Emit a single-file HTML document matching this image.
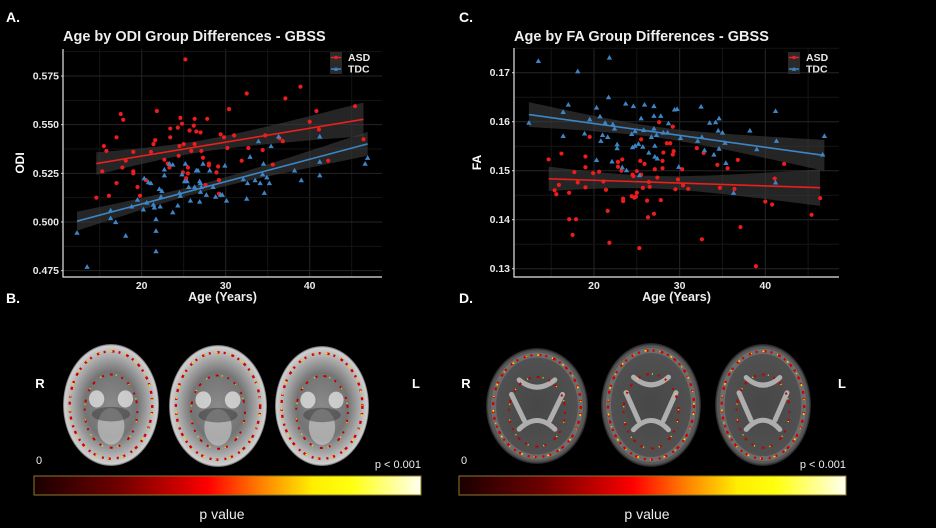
<!DOCTYPE html>
<html><head><meta charset="utf-8">
<style>
html,body{margin:0;padding:0;background:#000;}
svg{display:block;font-family:"Liberation Sans",sans-serif;}
</style></head>
<body>
<svg id="fig" width="936" height="528" viewBox="0 0 936 528" xmlns="http://www.w3.org/2000/svg">
<defs>
  <linearGradient id="cbar" x1="0" x2="1" y1="0" y2="0">
    <stop offset="0" stop-color="#1a0000"/>
    <stop offset="0.22" stop-color="#700000"/>
    <stop offset="0.38" stop-color="#d00000"/>
    <stop offset="0.45" stop-color="#ff0000"/>
    <stop offset="0.58" stop-color="#ff7a00"/>
    <stop offset="0.72" stop-color="#ffee00"/>
    <stop offset="0.82" stop-color="#ffff10"/>
    <stop offset="1" stop-color="#fffff0"/>
  </linearGradient>
  <radialGradient id="odiBrain" cx="0.5" cy="0.5" r="0.5">
    <stop offset="0" stop-color="#8a8a8a"/>
    <stop offset="0.55" stop-color="#747474"/>
    <stop offset="0.85" stop-color="#b5b5b5"/>
    <stop offset="0.97" stop-color="#d0d0d0"/>
    <stop offset="1" stop-color="#5a5a5a"/>
  </radialGradient>
  <radialGradient id="faBrain" cx="0.5" cy="0.5" r="0.5">
    <stop offset="0" stop-color="#474747"/>
    <stop offset="0.8" stop-color="#505050"/>
    <stop offset="0.95" stop-color="#595959"/>
    <stop offset="1" stop-color="#1e1e1e"/>
  </radialGradient>
</defs>
<g id="layer"></g>
</svg>
<script>
// ---------- DATA: Panel A (ODI) ----------
const ageA_asd=[14.6,15.3,15.5,15.8,16.1,17.0,17.0,17.5,17.8,17.7,18.1,19.0,19.0,19.0,19.5,19.8,20.5,21.1,21.4,21.6,21.8,22.7,23.1,23.3,23.4,23.4,24.4,24.3,24.5,24.6,24.8,24.9,25.0,25.2,25.3,25.5,25.5,25.7,25.9,26.2,26.3,26.3,26.5,27.0,27.1,27.3,27.6,27.8,28.0,28.0,28.9,29.1,29.2,29.2,29.4,29.8,30.2,30.4,31.0,31.9,32.5,32.7,34.4,34.7,35.6,36.4,36.8,37.1,38.9,40.0,40.8,41.1,42.2,45.4,46.4];
const odiA_asd=[0.5125,0.526,0.539,0.5365,0.5135,0.520,0.5435,0.5555,0.5525,0.528,0.5315,0.536,0.526,0.525,0.518,0.5135,0.5215,0.536,0.540,0.542,0.557,0.532,0.530,0.528,0.548,0.5435,0.534,0.5485,0.539,0.5535,0.5505,0.5255,0.540,0.5835,0.5225,0.528,0.525,0.547,0.5365,0.5495,0.553,0.540,0.5465,0.546,0.5365,0.533,0.519,0.553,0.530,0.529,0.5255,0.5285,0.5215,0.5145,0.545,0.5435,0.538,0.558,0.5445,0.5315,0.566,0.538,0.537,0.5445,0.5295,0.543,0.5415,0.5635,0.5695,0.5515,0.557,0.5475,0.5315,0.5595,0.5425];
const ageA_tdc=[12.3,13.5,16.3,16.3,16.9,18.1,18.8,19.5,20.2,20.3,20.6,20.8,21.1,21.4,21.5,21.7,21.7,21.7,22.1,22.2,22.4,22.3,22.7,22.7,23.3,23.7,23.7,24.3,24.5,24.6,24.8,25.1,25.2,25.4,25.6,25.8,26.3,26.5,26.7,26.9,26.9,27.0,27.0,27.1,27.3,27.7,28.1,28.5,28.8,29.4,29.6,29.9,30.1,32.1,32.5,32.6,32.9,33.5,33.9,34.1,34.4,34.5,34.6,34.9,35.2,35.4,36.3,38.2,39.0,41.2,41.2,41.2,46.6,46.9];
const odiA_tdc=[0.4945,0.477,0.506,0.502,0.500,0.493,0.508,0.5115,0.5065,0.5225,0.510,0.5205,0.520,0.509,0.5075,0.5015,0.4955,0.485,0.517,0.508,0.516,0.513,0.524,0.527,0.530,0.5295,0.505,0.5085,0.515,0.5135,0.5245,0.521,0.530,0.521,0.518,0.511,0.518,0.5265,0.5265,0.521,0.5105,0.520,0.5155,0.518,0.530,0.514,0.5265,0.518,0.513,0.514,0.514,0.529,0.511,0.522,0.512,0.520,0.5335,0.5215,0.5415,0.520,0.5245,0.530,0.515,0.523,0.520,0.539,0.544,0.5265,0.5215,0.544,0.531,0.524,0.530,0.533];
const xTicksA=[20,30,40];
const yTicksA=[0.475,0.500,0.525,0.550,0.575];
const yTickLabelsA=["0.475","0.500","0.525","0.550","0.575"];
// ---------- DATA: Panel C (FA) ----------
const ageC_asd=[14.7,15.4,15.6,15.9,16.2,17.1,17.1,17.5,17.7,17.9,18.1,19.0,19.0,19.0,19.5,19.9,20.6,21.1,21.4,21.6,21.8,22.8,22.8,23.2,23.3,23.4,23.4,24.4,24.5,24.6,24.7,24.9,25.0,25.0,25.3,25.4,25.5,25.5,25.7,25.9,26.2,26.3,26.4,26.5,27.0,27.1,27.4,27.6,27.8,28.0,28.0,28.1,28.5,28.9,29.2,29.2,29.3,29.5,29.8,30.3,30.4,31.0,32.0,32.6,32.8,34.4,34.7,35.6,36.4,36.8,37.1,38.9,40.0,40.8,41.1,42.2,45.4,46.4];
const faC_asd=[0.1523,0.146,0.1452,0.1471,0.1535,0.1455,0.1401,0.1369,0.1497,0.1401,0.1476,0.1529,0.1507,0.1466,0.1569,0.1495,0.1498,0.1478,0.1461,0.1418,0.1353,0.1518,0.1508,0.15,0.1523,0.1438,0.1443,0.1448,0.1492,0.1489,0.1445,0.1447,0.1499,0.1455,0.1342,0.152,0.1564,0.1492,0.1465,0.1514,0.1439,0.1405,0.1477,0.1467,0.1412,0.1503,0.1486,0.1599,0.144,0.152,0.1505,0.1537,0.1556,0.1556,0.159,0.1533,0.154,0.1462,0.1482,0.1503,0.147,0.1463,0.1546,0.136,0.1536,0.1512,0.1465,0.1505,0.1463,0.1522,0.1385,0.1305,0.1437,0.1431,0.1484,0.1514,0.141,0.1444];
const ageC_tdc=[12.4,13.5,16.4,16.4,17.0,18.1,18.9,19.5,20.3,20.3,20.7,20.8,21.0,21.3,21.6,21.7,21.8,22.1,22.2,22.4,22.7,22.7,23.3,23.7,23.8,24.4,24.5,24.6,24.8,24.8,25.2,25.3,25.5,25.7,25.8,25.9,26.4,26.7,27.0,27.0,27.0,27.1,27.1,27.3,27.4,27.8,28.1,28.6,28.7,29.4,29.7,29.9,30.1,32.1,32.5,32.6,32.9,33.5,34.0,34.2,34.5,34.6,34.6,35.0,35.3,35.4,36.3,38.2,39.0,41.2,41.3,41.2,46.7,46.9];
const faC_tdc=[0.1598,0.1724,0.1571,0.162,0.1635,0.1703,0.1576,0.1605,0.1522,0.1629,0.1611,0.1561,0.1573,0.1598,0.1569,0.165,0.1731,0.1519,0.1595,0.1586,0.1554,0.1546,0.1507,0.1637,0.1501,0.1575,0.1548,0.1632,0.1581,0.1551,0.1555,0.1491,0.1607,0.1549,0.1583,0.1635,0.1537,0.1569,0.1632,0.1612,0.1586,0.1529,0.1551,0.1573,0.1525,0.1612,0.1578,0.1578,0.1597,0.1625,0.1626,0.1508,0.1567,0.1561,0.1631,0.1569,0.1542,0.1598,0.1533,0.1599,0.1582,0.1607,0.1545,0.1578,0.1557,0.1516,0.1455,0.1582,0.1544,0.1622,0.1561,0.1476,0.1533,0.1571];
const xTicksC=[20,30,40];
const yTicksC=[0.13,0.14,0.15,0.16,0.17];
const yTickLabelsC=["0.13","0.14","0.15","0.16","0.17"];

const NS="http://www.w3.org/2000/svg";
const root=document.getElementById('layer');
function mk(tag,attrs,parent){const e=document.createElementNS(NS,tag);for(const k in attrs)e.setAttribute(k,attrs[k]);(parent||root).appendChild(e);return e;}
function txt(s,x,y,attrs,parent){const e=mk('text',Object.assign({x:x,y:y,fill:'#fff'},attrs),parent);e.textContent=s;return e;}

function fit(xs,ys){
  const n=xs.length;let mx=0,my=0;for(let i=0;i<n;i++){mx+=xs[i];my+=ys[i];}mx/=n;my/=n;
  let sxx=0,sxy=0;for(let i=0;i<n;i++){sxx+=(xs[i]-mx)**2;sxy+=(xs[i]-mx)*(ys[i]-my);}
  const b=sxy/sxx,a=my-b*mx;let ss=0;for(let i=0;i<n;i++){ss+=(ys[i]-a-b*xs[i])**2;}
  const s=Math.sqrt(ss/(n-2));
  return {a,b,mx,sxx,s,n,min:Math.min(...xs),max:Math.max(...xs)};
}

function panel(cfg){
  const g=mk('g',{});
  
  
  const X=cfg.x,Y=cfg.y,L=cfg.left,R=cfg.right,T=cfg.top,B=cfg.bottom;
  const grid=mk('g',{},g);
  
  
  for(let i=0;i<cfg.xTicks.length;i++){
    const v=cfg.xTicks[i];
    mk('line',{x1:X(v),x2:X(v),y1:T,y2:B,stroke:'#262626','stroke-width':1},grid);
    const m=v-5;mk('line',{x1:X(m),x2:X(m),y1:T,y2:B,stroke:'#151515','stroke-width':1},grid);
  }
  const last=cfg.xTicks[cfg.xTicks.length-1]+5;
  if(X(last)<R) mk('line',{x1:X(last),x2:X(last),y1:T,y2:B,stroke:'#151515','stroke-width':1},grid);
  const ys=cfg.yTicks;const step=ys[1]-ys[0];
  for(let i=0;i<ys.length;i++){
    mk('line',{x1:L,x2:R,y1:Y(ys[i]),y2:Y(ys[i]),stroke:'#262626','stroke-width':1},grid);
    const m=ys[i]+step/2; if(Y(m)>T) mk('line',{x1:L,x2:R,y1:Y(m),y2:Y(m),stroke:'#151515','stroke-width':1},grid);
  }
  for(let i=0;i<ys.length;i++){
    const t=txt(cfg.yLabels[i],L-4,Y(ys[i])+3.5,{'text-anchor':'end','font-size':'10.5','font-weight':'bold',fill:'#e8e8e8'},g);
    
    
    mk('line',{x1:L-2,x2:L,y1:Y(ys[i]),y2:Y(ys[i]),stroke:'#ccc'},g);
  }
  for(let i=0;i<cfg.xTicks.length;i++){
    const v=cfg.xTicks[i];
    const t=txt(String(v),X(v),B+12,{'text-anchor':'middle','font-size':'10.5','font-weight':'bold',fill:'#e8e8e8'},g);
    
    
  }
  const groups=[{xs:cfg.asdX,ys:cfg.asdY,col:'#e8201e',pt:'#ee1c1c',shape:'c',name:'asd'},{xs:cfg.tdcX,ys:cfg.tdcY,col:'#3a86c8',pt:'#3d85c6',shape:'t',name:'tdc'}];
  const fits=groups.map(gr=>fit(gr.xs,gr.ys));
  groups.forEach((gr,k)=>{
    const f=fits[k];const up=[],lo=[];
    for(let j=0;j<=40;j++){
      const a=f.min+(f.max-f.min)*j/40;const yv=f.a+f.b*a;
      const hw=1.99*f.s*Math.sqrt(1/f.n+(a-f.mx)**2/f.sxx);
      up.push(X(a).toFixed(1)+','+Y(yv+hw).toFixed(1));lo.unshift(X(a).toFixed(1)+','+Y(yv-hw).toFixed(1));
    }
    const rib=mk('polygon',{points:up.concat(lo).join(' '),fill:'#3c3c3c','fill-opacity':0.62},g);
    
    
  });
  groups.forEach((gr,k)=>{
    const pg=mk('g',{},g);
    
    
    for(let i=0;i<gr.xs.length;i++){
      const px=X(gr.xs[i]),py=Y(gr.ys[i]);let e;
      if(gr.shape==='c') e=mk('circle',{cx:px,cy:py,r:2.1,fill:gr.pt},pg);
      else e=mk('polygon',{points:(px-2.7)+','+(py+2.1)+' '+(px+2.7)+','+(py+2.1)+' '+px+','+(py-2.6),fill:gr.pt},pg);
      
      
    }
  });
  groups.forEach((gr,k)=>{
    const f=fits[k];
    const ln=mk('line',{x1:X(f.min),y1:Y(f.a+f.b*f.min),x2:X(f.max),y2:Y(f.a+f.b*f.max),stroke:gr.col,'stroke-width':1.6},g);
    
    
  });
  const ax=mk('path',{d:`M${L},${T} L${L},${B} L${R},${B}`,fill:'none',stroke:'#e6e6e6','stroke-width':1.2},g);
  
  
  const tt=txt(cfg.title,L,41,{'font-size':'14.5','font-weight':'bold',fill:'#eee'},g);
  
  
  const yt=txt(cfg.yTitle,0,0,{'font-size':'12','font-weight':'bold','text-anchor':'middle',transform:`translate(${cfg.yTitleX},${(T+B)/2}) rotate(-90)`},g);
  
  
  const xt=txt('Age (Years)',(L+R)/2,B+24,{'font-size':'12.5','font-weight':'bold','text-anchor':'middle',fill:'#eee'},g);
  
  
  const lg=mk('g',{},g);
  
  
  const lx=cfg.legX;
  mk('rect',{x:lx,y:52,width:12,height:22,fill:'#2a2a2a'},lg);
  mk('line',{x1:lx+1,x2:lx+11,y1:57.5,y2:57.5,stroke:'#e8201e','stroke-width':1.5},lg);
  mk('circle',{cx:lx+6,cy:57.5,r:1.8,fill:'#e8201e'},lg);
  mk('line',{x1:lx+1,x2:lx+11,y1:69,y2:69,stroke:'#3a86c8','stroke-width':1.5},lg);
  mk('polygon',{points:`${lx+3.8},70.8 ${lx+8.2},70.8 ${lx+6},66.8`,fill:'#3a86c8'},lg);
  const l1=txt('ASD',lx+18,61,{'font-size':'10.5','font-weight':'bold',fill:'#e8e8e8'},lg);
  
  
  const l2=txt('TDC',lx+18,72.5,{'font-size':'10.5','font-weight':'bold',fill:'#e8e8e8'},lg);
  
  
}

panel({name:'panel-a-odi-chart',left:63,right:382,top:49,bottom:277,
  x:a=>141.7+(a-20)*8.4, y:v=>222-(v-0.5)/0.025*48.67,
  xTicks:xTicksA,yTicks:yTicksA,yLabels:yTickLabelsA,
  asdX:ageA_asd,asdY:odiA_asd,tdcX:ageA_tdc,tdcY:odiA_tdc,
  title:'Age by ODI Group Differences - GBSS',yTitle:'ODI',yTitleX:24,legX:330});
panel({name:'panel-c-fa-chart',left:514,right:839,top:48,bottom:277,
  x:a=>594+(a-20)*8.565, y:v=>170.7-(v-0.15)/0.01*49,
  xTicks:xTicksC,yTicks:yTicksC,yLabels:yTickLabelsC,
  asdX:ageC_asd,asdY:faC_asd,tdcX:ageC_tdc,tdcY:faC_tdc,
  title:'Age by FA Group Differences - GBSS',yTitle:'FA',yTitleX:481,legX:788});

[['A.',6,22],['C.',459,22],['B.',6,303],['D.',459,303]].forEach(p=>{
  const t=txt(p[0],p[1],p[2],{'font-size':'14','font-weight':'bold'});
  
  
});

function brain(cx,cy,rx,ry,kind){
  const g=mk('g',{});
  
  
  if(kind==='odi'){
    mk('ellipse',{cx,cy,rx,ry,fill:'url(#odiBrain)'},g);
    mk('ellipse',{cx:cx-rx*0.3,cy:cy-ry*0.1,rx:rx*0.16,ry:ry*0.14,fill:'#e6e6e6','fill-opacity':0.75},g);
    mk('ellipse',{cx:cx+rx*0.3,cy:cy-ry*0.1,rx:rx*0.16,ry:ry*0.14,fill:'#e6e6e6','fill-opacity':0.75},g);
    mk('ellipse',{cx:cx,cy:cy+ry*0.35,rx:rx*0.28,ry:ry*0.3,fill:'#cfcfcf','fill-opacity':0.6},g);
    mk('ellipse',{cx:cx,cy:cy+ry*0.15,rx:rx*0.4,ry:ry*0.12,fill:'#3a3a3a','fill-opacity':0.5},g);
  } else {
    mk('ellipse',{cx,cy,rx,ry,fill:'url(#faBrain)'},g);
    mk('path',{d:`M${cx-rx*0.35},${cy-ry*0.45} Q${cx},${cy-ry*0.2} ${cx+rx*0.35},${cy-ry*0.45} M${cx-rx*0.35},${cy+ry*0.4} Q${cx},${cy+ry*0.1} ${cx+rx*0.35},${cy+ry*0.4} M${cx-rx*0.5},${cy-ry*0.2} L${cx-rx*0.25},${cy+ry*0.25} M${cx+rx*0.5},${cy-ry*0.2} L${cx+rx*0.25},${cy+ry*0.25}`,fill:'none',stroke:'#d8d8d8','stroke-width':5,'stroke-opacity':0.7,'stroke-linecap':'round'},g);
    mk('ellipse',{cx,cy,rx:rx*0.85,ry:ry*0.88,fill:'none',stroke:'#aaa','stroke-width':5,'stroke-opacity':0.3},g);
  }
  mk('ellipse',{cx,cy,rx:rx*0.86,ry:ry*0.88,fill:'none',stroke:'#d40000','stroke-width':2.4,'stroke-dasharray':'3 4 2 6'},g);
  mk('ellipse',{cx,cy,rx:rx*0.86,ry:ry*0.88,fill:'none',stroke:'#ffd000','stroke-width':1.6,'stroke-dasharray':'1 11 2 13','stroke-dashoffset':4},g);
  mk('ellipse',{cx,cy:cy+ry*0.1,rx:rx*0.55,ry:ry*0.6,fill:'none',stroke:'#c00000','stroke-width':2,'stroke-dasharray':'2 6 3 9'},g);
  mk('ellipse',{cx,cy:cy+ry*0.1,rx:rx*0.55,ry:ry*0.6,fill:'none',stroke:'#ffe000','stroke-width':1.4,'stroke-dasharray':'1 15','stroke-dashoffset':6},g);
}
brain(111,405,48,61,'odi');brain(218,406,49,61,'odi');brain(322,406,47,60,'odi');
brain(537,406,51,58,'fa');brain(651,405,50,62,'fa');brain(763,405,48,61,'fa');

[[40,388,'R'],[416,388,'L'],[466,388,'R'],[842,388,'L']].forEach(p=>{
  const t=txt(p[2],p[0],p[1],{'font-size':'13','font-weight':'bold','text-anchor':'middle'});
  
  
});
[[34,'b'],[459,'d']].forEach(p=>{
  const x0=p[0];
  const z=txt('0',x0+2,464,{'font-size':'11',fill:'#eee'});
  
  
  const cb=mk('rect',{x:x0,y:476,width:387,height:19,fill:'url(#cbar)',stroke:'#8a7a2a','stroke-width':1});
  
  
  const mx=txt('p < 0.001',x0+387,468,{'font-size':'11','text-anchor':'end',fill:'#eee'});
  
  
  const pv=txt('p value',x0+188,519,{'font-size':'14','text-anchor':'middle',fill:'#eee'});
  
  
});
</script>
</body></html>
